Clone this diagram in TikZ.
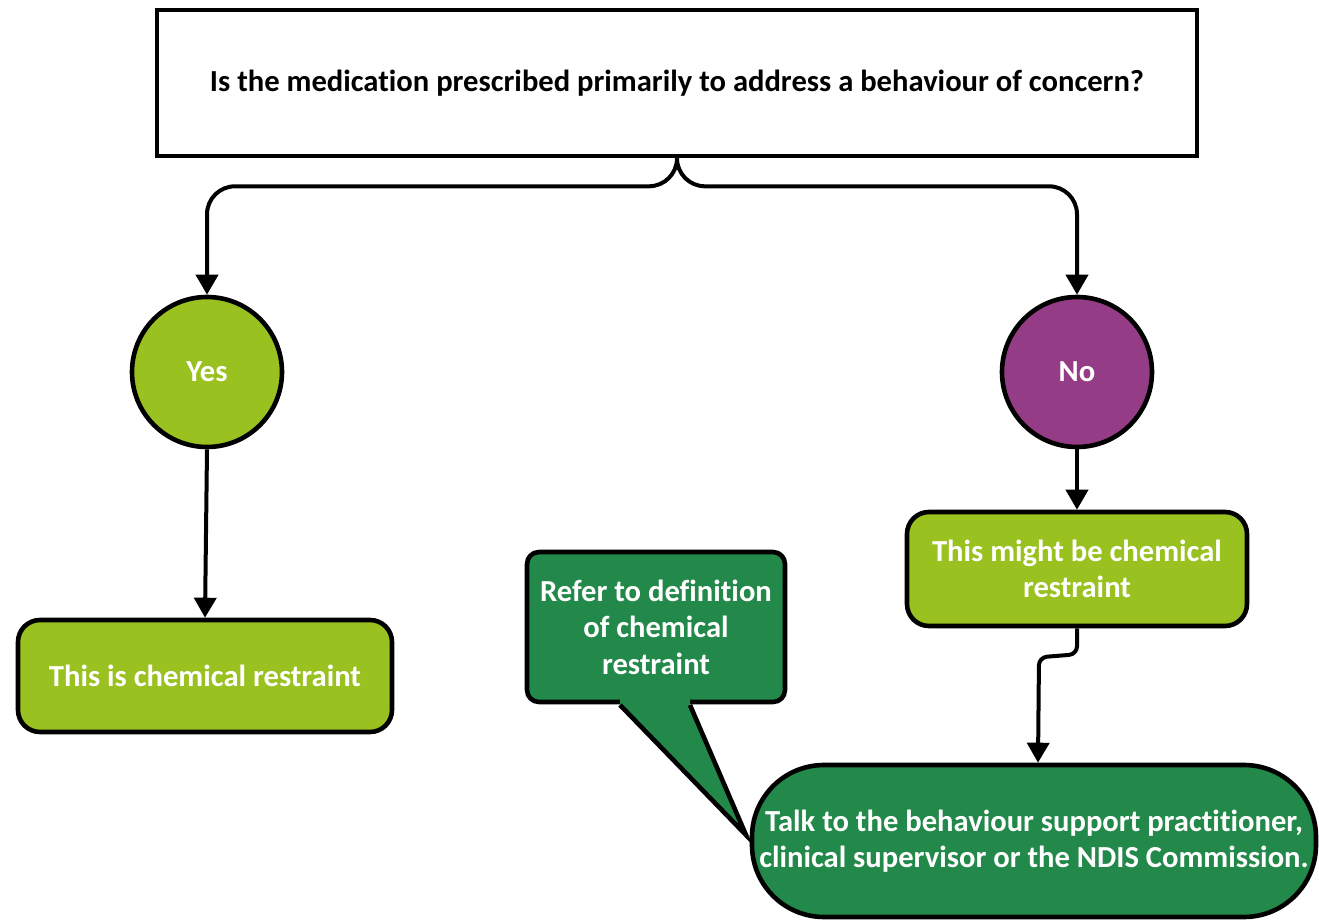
\documentclass[tikz,border=0pt]{standalone}
\usepackage{fontspec}
\setmainfont[Ligatures={NoCommon}]{Carlito}
\usetikzlibrary{arrows.meta,calc}
\definecolor{ltgreen}{RGB}{153,193,31}
\definecolor{dkgreen}{RGB}{35,137,74}
\definecolor{plum}{RGB}{148,60,134}
\tikzset{
  base/.style={draw=black,line width=2.3pt,font=\fontsize{15.3}{18.3}\selectfont\bfseries,align=center,inner sep=2pt},
  qbox/.style={base,rectangle,minimum width=520pt,minimum height=73pt},
  yescirc/.style={base,circle,fill=ltgreen,text=white,minimum size=75pt},
  nocirc/.style={base,circle,fill=plum,text=white,minimum size=75pt},
  lbox/.style={base,rectangle,rounded corners=11pt,fill=ltgreen,text=white},
  dbox/.style={base,rectangle,rounded corners=36pt,fill=dkgreen,text=white},
  bubble/.style={base,rectangle,rounded corners=6pt,fill=dkgreen,text=white},
  arr/.style={draw=black,line width=2pt,-{Triangle[width=11pt,length=10pt]}},
}
\begin{document}
\begin{tikzpicture}[x=0.5pt,y=-0.5pt]
\useasboundingbox (0,0) rectangle (1319,920);
\fill[white] (0,0) rectangle (1319,920);
\node[qbox] (q) at (677,83) {Is the medication prescribed primarily to address a behaviour of concern?};
\node[yescirc] (yes) at (207,372) {Yes};
\node[nocirc] (no) at (1077,372) {No};
\node[lbox,minimum width=187pt,minimum height=56pt] (is) at (205,676) {This is chemical restraint};
\node[lbox,minimum width=170pt,minimum height=57pt] (might) at (1077,569) {This might be chemical\\restraint};
\node[dbox,minimum width=282pt,minimum height=76pt] (talk) at (1034,841) {Talk to the behaviour support practitioner,\\clinical supervisor or the NDIS Commission.};
\node[bubble,minimum width=129pt,minimum height=75pt] (ref) at (656,627) {Refer to definition\\of chemical\\restraint};
% bubble tail
\coordinate (tip) at (746,835);
\fill[dkgreen] (620,697) -- (620,705) -- (tip) -- (690,705) -- (690,697) -- cycle;
\draw[line width=2.3pt,line join=miter] (620,705) -- (tip) -- (690,705);
% connectors
\draw[arr,rounded corners=14pt] (q.south) -- ++(0,28) -| (yes.north);
\draw[arr,rounded corners=14pt] (q.south) -- ++(0,28) -| (no.north);
\draw[arr] (yes.south) -- (is.north);
\draw[arr] (no.south) -- (might.north);
\draw[arr,rounded corners=4pt] (might.south) -- ++(0,26) -- ++(-38,3) -- ([xshift=2pt]talk.north);
\end{tikzpicture}
\end{document}
